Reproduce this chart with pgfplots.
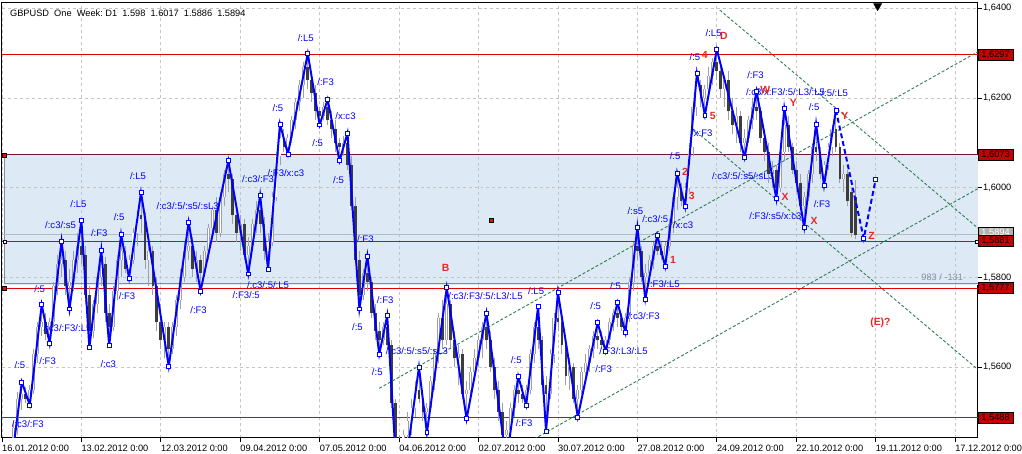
\documentclass[border=0pt]{standalone}
\usepackage{fontspec}
\setmainfont{Liberation Sans}
\usepackage{pgfplots}
\usepackage{pgfplotstable}
\pgfplotsset{compat=1.18}

\definecolor{zz}{RGB}{0,0,255}
\definecolor{lvl}{RGB}{228,0,0}
\definecolor{lvlbg}{RGB}{200,0,0}
\definecolor{lvldark}{RGB}{120,20,50}
\definecolor{band}{RGB}{221,233,245}
\definecolor{bandedge}{RGB}{128,144,164}
\definecolor{chan}{RGB}{46,125,80}
\definecolor{gridc}{RGB}{196,196,196}
\definecolor{wick}{RGB}{160,160,160}
\definecolor{bear}{RGB}{60,60,60}
\definecolor{lblred}{RGB}{232,40,40}
\definecolor{bid}{RGB}{180,188,196}

% daily candles: bar index, open, high, low, close
\pgfplotstableread{
i o h l c
0 1.5370 1.5410 1.5330 1.5390
1 1.5390 1.5420 1.5350 1.5380
2 1.5380 1.5420 1.5360 1.5400
3 1.5400 1.5480 1.5390 1.5465
4 1.5465 1.5545 1.5450 1.5530
5 1.5530 1.5567 1.5505 1.5540
6 1.5540 1.5555 1.5520 1.5530
7 1.5530 1.5560 1.5516 1.5550
8 1.5550 1.5640 1.5540 1.5630
9 1.5630 1.5700 1.5610 1.5690
10 1.5690 1.5739 1.5670 1.5700
11 1.5700 1.5720 1.5660 1.5675
12 1.5675 1.5710 1.5653 1.5700
13 1.5700 1.5790 1.5690 1.5780
14 1.5780 1.5850 1.5760 1.5830
15 1.5830 1.5881 1.5800 1.5840
16 1.5840 1.5860 1.5760 1.5780
17 1.5780 1.5820 1.5730 1.5790
18 1.5790 1.5860 1.5770 1.5840
19 1.5840 1.5900 1.5810 1.5870
20 1.5870 1.5927 1.5830 1.5850
21 1.5850 1.5870 1.5740 1.5760
22 1.5760 1.5780 1.5644 1.5680
23 1.5680 1.5750 1.5665 1.5740
24 1.5740 1.5810 1.5720 1.5800
25 1.5800 1.5861 1.5780 1.5830
26 1.5830 1.5845 1.5700 1.5720
27 1.5720 1.5740 1.5648 1.5690
28 1.5690 1.5780 1.5680 1.5770
29 1.5770 1.5850 1.5750 1.5840
30 1.5840 1.5896 1.5800 1.5860
31 1.5860 1.5870 1.5810 1.5820
32 1.5820 1.5850 1.5799 1.5840
33 1.5840 1.5910 1.5830 1.5900
34 1.5900 1.5950 1.5870 1.5940
35 1.5940 1.5989 1.5900 1.5930
36 1.5930 1.5945 1.5820 1.5840
37 1.5840 1.5880 1.5780 1.5860
38 1.5860 1.5870 1.5760 1.5780
39 1.5780 1.5800 1.5680 1.5700
40 1.5700 1.5740 1.5640 1.5660
41 1.5660 1.5700 1.5620 1.5690
42 1.5690 1.5700 1.5602 1.5640
43 1.5640 1.5700 1.5630 1.5690
44 1.5690 1.5760 1.5670 1.5750
45 1.5750 1.5820 1.5730 1.5800
46 1.5800 1.5880 1.5790 1.5860
47 1.5860 1.5923 1.5840 1.5870
48 1.5870 1.5890 1.5800 1.5820
49 1.5820 1.5860 1.5790 1.5840
50 1.5840 1.5850 1.5770 1.5810
51 1.5810 1.5870 1.5800 1.5860
52 1.5860 1.5920 1.5840 1.5910
53 1.5910 1.5960 1.5890 1.5950
54 1.5950 1.5980 1.5880 1.5900
55 1.5900 1.5990 1.5890 1.5980
56 1.5980 1.6040 1.5960 1.6030
57 1.6030 1.6060 1.5990 1.6020
58 1.6020 1.6030 1.5920 1.5940
59 1.5940 1.5960 1.5880 1.5900
60 1.5900 1.5940 1.5860 1.5920
61 1.5920 1.5930 1.5840 1.5850
62 1.5850 1.5890 1.5808 1.5870
63 1.5870 1.5930 1.5860 1.5920
64 1.5920 1.5970 1.5900 1.5950
65 1.5950 1.5983 1.5900 1.5920
66 1.5920 1.5935 1.5840 1.5860
67 1.5860 1.5900 1.5819 1.5880
68 1.5880 1.5990 1.5870 1.5980
69 1.5980 1.6080 1.5970 1.6070
70 1.6070 1.6142 1.6050 1.6110
71 1.6110 1.6130 1.6080 1.6090
72 1.6090 1.6120 1.6075 1.6110
73 1.6110 1.6160 1.6100 1.6150
74 1.6150 1.6200 1.6130 1.6190
75 1.6190 1.6240 1.6170 1.6230
76 1.6230 1.6280 1.6200 1.6270
77 1.6270 1.6299 1.6220 1.6240
78 1.6240 1.6260 1.6190 1.6210
79 1.6210 1.6230 1.6150 1.6170
80 1.6170 1.6180 1.6140 1.6160
81 1.6160 1.6190 1.6150 1.6180
82 1.6180 1.6197 1.6140 1.6150
83 1.6150 1.6170 1.6110 1.6130
84 1.6130 1.6150 1.6080 1.6100
85 1.6100 1.6110 1.6060 1.6090
86 1.6090 1.6115 1.6070 1.6100
87 1.6100 1.6122 1.6040 1.6050
88 1.6050 1.6070 1.5950 1.5960
89 1.5960 1.5980 1.5830 1.5840
90 1.5840 1.5860 1.5730 1.5760
91 1.5760 1.5820 1.5750 1.5810
92 1.5810 1.5848 1.5770 1.5790
93 1.5790 1.5800 1.5710 1.5720
94 1.5720 1.5740 1.5660 1.5680
95 1.5680 1.5700 1.5629 1.5660
96 1.5660 1.5700 1.5650 1.5690
97 1.5690 1.5715 1.5640 1.5650
98 1.5650 1.5660 1.5510 1.5520
99 1.5520 1.5530 1.5400 1.5420
100 1.5420 1.5450 1.5275 1.5390
101 1.5390 1.5460 1.5370 1.5450
102 1.5450 1.5500 1.5420 1.5480
103 1.5480 1.5530 1.5450 1.5510
104 1.5510 1.5570 1.5490 1.5550
105 1.5550 1.5600 1.5520 1.5530
106 1.5530 1.5550 1.5480 1.5500
107 1.5500 1.5520 1.5454 1.5510
108 1.5510 1.5580 1.5500 1.5570
109 1.5570 1.5640 1.5550 1.5630
110 1.5630 1.5720 1.5610 1.5710
111 1.5710 1.5750 1.5640 1.5660
112 1.5660 1.5777 1.5650 1.5740
113 1.5740 1.5750 1.5640 1.5660
114 1.5660 1.5680 1.5600 1.5620
115 1.5620 1.5650 1.5560 1.5630
116 1.5630 1.5640 1.5530 1.5540
117 1.5540 1.5570 1.5485 1.5550
118 1.5550 1.5600 1.5530 1.5590
119 1.5590 1.5640 1.5570 1.5620
120 1.5620 1.5670 1.5600 1.5660
121 1.5660 1.5700 1.5620 1.5690
122 1.5690 1.5721 1.5640 1.5660
123 1.5660 1.5680 1.5590 1.5600
124 1.5600 1.5620 1.5530 1.5550
125 1.5550 1.5570 1.5480 1.5500
126 1.5500 1.5520 1.5430 1.5450
127 1.5450 1.5480 1.5390 1.5460
128 1.5460 1.5520 1.5440 1.5510
129 1.5510 1.5560 1.5490 1.5550
130 1.5550 1.5580 1.5520 1.5540
131 1.5540 1.5560 1.5520 1.5530
132 1.5530 1.5560 1.5516 1.5550
133 1.5550 1.5640 1.5540 1.5630
134 1.5630 1.5700 1.5610 1.5690
135 1.5690 1.5735 1.5640 1.5660
136 1.5660 1.5670 1.5540 1.5560
137 1.5560 1.5580 1.5458 1.5540
138 1.5540 1.5640 1.5530 1.5630
139 1.5630 1.5720 1.5610 1.5710
140 1.5710 1.5766 1.5680 1.5700
141 1.5700 1.5720 1.5630 1.5650
142 1.5650 1.5670 1.5560 1.5580
143 1.5580 1.5620 1.5550 1.5600
144 1.5600 1.5610 1.5520 1.5530
145 1.5530 1.5560 1.5489 1.5550
146 1.5550 1.5600 1.5540 1.5590
147 1.5590 1.5630 1.5570 1.5610
148 1.5610 1.5650 1.5590 1.5640
149 1.5640 1.5680 1.5620 1.5670
150 1.5670 1.5699 1.5640 1.5660
151 1.5660 1.5680 1.5640 1.5650
152 1.5650 1.5670 1.5635 1.5660
153 1.5660 1.5710 1.5650 1.5700
154 1.5700 1.5730 1.5680 1.5720
155 1.5720 1.5744 1.5690 1.5710
156 1.5710 1.5720 1.5680 1.5690
157 1.5690 1.5720 1.5677 1.5710
158 1.5710 1.5800 1.5700 1.5790
159 1.5790 1.5880 1.5770 1.5870
160 1.5870 1.5912 1.5840 1.5860
161 1.5860 1.5870 1.5790 1.5800
162 1.5800 1.5830 1.5752 1.5810
163 1.5810 1.5850 1.5800 1.5840
164 1.5840 1.5880 1.5820 1.5870
165 1.5870 1.5894 1.5850 1.5860
166 1.5860 1.5880 1.5840 1.5850
167 1.5850 1.5880 1.5825 1.5870
168 1.5870 1.5930 1.5860 1.5920
169 1.5920 1.5990 1.5900 1.5980
170 1.5980 1.6033 1.5950 1.6000
171 1.6000 1.6010 1.5960 1.5970
172 1.5970 1.6010 1.5958 1.6000
173 1.6000 1.6100 1.5990 1.6090
174 1.6090 1.6190 1.6070 1.6180
175 1.6180 1.6255 1.6160 1.6230
176 1.6230 1.6240 1.6180 1.6200
177 1.6200 1.6230 1.6162 1.6220
178 1.6220 1.6270 1.6200 1.6250
179 1.6250 1.6290 1.6230 1.6280
180 1.6280 1.6308 1.6240 1.6260
181 1.6260 1.6280 1.6200 1.6220
182 1.6220 1.6250 1.6180 1.6240
183 1.6240 1.6260 1.6150 1.6170
184 1.6170 1.6200 1.6120 1.6140
185 1.6140 1.6180 1.6100 1.6160
186 1.6160 1.6170 1.6080 1.6100
187 1.6100 1.6130 1.6067 1.6110
188 1.6110 1.6160 1.6100 1.6150
189 1.6150 1.6200 1.6130 1.6180
190 1.6180 1.6215 1.6150 1.6170
191 1.6170 1.6180 1.6100 1.6110
192 1.6110 1.6130 1.6060 1.6080
193 1.6080 1.6100 1.6010 1.6030
194 1.6030 1.6060 1.6000 1.6040
195 1.6040 1.6050 1.5976 1.6000
196 1.6000 1.6090 1.5990 1.6080
197 1.6080 1.6177 1.6060 1.6140
198 1.6140 1.6160 1.6080 1.6090
199 1.6090 1.6100 1.6030 1.6040
200 1.6040 1.6060 1.5990 1.6010
201 1.6010 1.6030 1.5950 1.5960
202 1.5960 1.5990 1.5912 1.5980
203 1.5980 1.6040 1.5970 1.6030
204 1.6030 1.6100 1.6010 1.6090
205 1.6090 1.6142 1.6060 1.6080
206 1.6080 1.6090 1.6020 1.6030
207 1.6030 1.6060 1.6005 1.6050
208 1.6050 1.6100 1.6040 1.6090
209 1.6090 1.6140 1.6070 1.6130
210 1.6130 1.6173 1.6080 1.6090
211 1.6090 1.6100 1.6010 1.6020
212 1.6020 1.6050 1.5990 1.6030
213 1.6030 1.6040 1.5960 1.5970
214 1.5990 1.6000 1.5890 1.5900
215 1.5980 1.6017 1.5886 1.5894
}\candles

% zigzag swing points
\pgfplotstableread{
i p
2 1.5360
5 1.5567
7 1.5516
10 1.5739
12 1.5653
15 1.5881
17 1.5730
20 1.5927
22 1.5644
25 1.5861
27 1.5648
30 1.5896
32 1.5799
35 1.5989
42 1.5602
47 1.5923
50 1.5770
57 1.6060
62 1.5808
65 1.5983
67 1.5819
70 1.6142
72 1.6075
77 1.6299
80 1.6140
82 1.6197
85 1.6060
87 1.6122
90 1.5730
92 1.5848
95 1.5629
97 1.5715
100 1.5275
105 1.5600
107 1.5454
112 1.5777
117 1.5485
122 1.5721
127 1.5390
130 1.5580
132 1.5516
135 1.5735
137 1.5458
140 1.5766
145 1.5489
150 1.5699
152 1.5635
155 1.5744
157 1.5677
160 1.5912
162 1.5752
165 1.5894
167 1.5825
170 1.6033
172 1.5958
175 1.6255
177 1.6162
180 1.6308
187 1.6067
190 1.6215
195 1.5976
197 1.6177
202 1.5912
205 1.6142
207 1.6005
210 1.6173
}\zigzag

% visible swing points (markers)
\pgfplotstableread{
i p
5 1.5567
7 1.5516
10 1.5739
12 1.5653
15 1.5881
17 1.5730
20 1.5927
22 1.5644
25 1.5861
27 1.5648
30 1.5896
32 1.5799
35 1.5989
42 1.5602
47 1.5923
50 1.5770
57 1.6060
62 1.5808
65 1.5983
67 1.5819
70 1.6142
72 1.6075
77 1.6299
80 1.6140
82 1.6197
85 1.6060
87 1.6122
90 1.5730
92 1.5848
95 1.5629
97 1.5715
105 1.5600
107 1.5454
112 1.5777
117 1.5485
122 1.5721
130 1.5580
132 1.5516
135 1.5735
137 1.5458
140 1.5766
145 1.5489
150 1.5699
152 1.5635
155 1.5744
157 1.5677
160 1.5912
162 1.5752
165 1.5894
167 1.5825
170 1.6033
172 1.5958
175 1.6255
177 1.6162
180 1.6308
187 1.6067
190 1.6215
195 1.5976
197 1.6177
202 1.5912
205 1.6142
207 1.6005
210 1.6173
217 1.5887
220 1.6018
}\zzmarks

\pgfplotstableread{
i p
210 1.6173
217 1.5887
220 1.6018
}\zzproj

\begin{document}
\begin{tikzpicture}[font=\fontsize{9.3}{10}\selectfont,
  zl/.style={text=zz, inner sep=0pt, font=\fontsize{9.6}{10}\selectfont},
  rl/.style={text=lblred, inner sep=0pt, font=\bfseries\fontsize{10.5}{11}\selectfont},
  lvlbox/.style={anchor=west, fill=lvlbg, draw=black, line width=0.6pt, minimum width=35pt,
    minimum height=11pt, inner sep=0pt, text=black}]
\begin{axis}[
  scale only axis, width=983pt, height=438pt,
  at={(0pt,0pt)}, anchor=south west,
  xmin=0, xmax=245.75, ymin=1.54427, ymax=1.64117,
  xtick={0,20,...,240},
  xticklabels={16.01.2012 0:00,13.02.2012 0:00,12.03.2012 0:00,09.04.2012 0:00,
    07.05.2012 0:00,04.06.2012 0:00,02.07.2012 0:00,30.07.2012 0:00,27.08.2012 0:00,
    24.09.2012 0:00,22.10.2012 0:00,19.11.2012 0:00,17.12.2012 0:00},
  ytick={1.56,1.58,1.60,1.62,1.64},
  yticklabels={{1,5600},{1,5800},{1,6000},{1,6200},{1,6400}},
  xtick pos=left, ytick pos=right, yticklabel pos=right,
  tick align=outside, major tick length=4pt,
  tick style={black, line width=0.8pt},
  grid=major, major grid style={gridc, dash pattern=on 3pt off 3pt, line width=0.7pt},
  axis line style={black, line width=1pt},
  xticklabel style={anchor=north west, inner sep=0pt, yshift=-3.5pt},
  yticklabel style={anchor=west, inner sep=0pt, xshift=1pt},
]
% box band, with the grid redrawn over it
\addplot[fill=band, draw=none]
  coordinates {(0.5,1.5784) (245.75,1.5784) (245.75,1.6073) (0.5,1.6073)} -- cycle;
\addplot[gridc, dash pattern=on 3pt off 3pt, line width=0.7pt] coordinates {(0.5,1.58) (245.75,1.58)};
\addplot[gridc, dash pattern=on 3pt off 3pt, line width=0.7pt] coordinates {(0.5,1.60) (245.75,1.60)};
\pgfplotsinvokeforeach{20,40,...,240}{
  \addplot[gridc, dash pattern=on 3pt off 3pt, line width=0.7pt] coordinates {(#1,1.5784) (#1,1.6073)};
}
\addplot[bandedge, line width=0.8pt] coordinates {(0.5,1.5786) (245.75,1.5786)};
\addplot[bandedge, line width=0.8pt] coordinates {(0.5,1.5786) (0.5,1.6073)};
\addplot[bid, line width=0.8pt] coordinates {(0,1.5895) (245.75,1.5895)};

% levels
\addplot[lvl, line width=1pt] coordinates {(0,1.6297) (245.75,1.6297)};
\addplot[lvldark, line width=1pt] coordinates {(0,1.6073) (245.75,1.6073)};
\addplot[lvl, line width=1pt] coordinates {(0,1.5880) (245.75,1.5880)};
\addplot[lvl, line width=1pt] coordinates {(0,1.5776) (245.75,1.5776)};
\addplot[lvl, line width=1pt] coordinates {(0,1.5487) (245.75,1.5487)};

% candles
\addplot[draw=none, error bars/.cd, y dir=plus, y explicit, error mark=none,
  error bar style={wick, line width=0.9pt, solid}]
  table[x=i, y=l, y error plus expr=\thisrow{h}-\thisrow{l}] {\candles};
\addplot[draw=none, x filter/.expression={\thisrow{c}>\thisrow{o} ? x : nan},
  error bars/.cd, y dir=plus, y explicit, error mark=none,
  error bar style={wick, line width=3pt, solid}]
  table[x=i, y=o, y error plus expr=\thisrow{c}-\thisrow{o}] {\candles};
\addplot[draw=none, x filter/.expression={\thisrow{c}>\thisrow{o} ? x : nan},
  error bars/.cd, y dir=plus, y explicit, error mark=none,
  error bar style={white, line width=1.2pt, solid}]
  table[x=i, y=o, y error plus expr=\thisrow{c}-\thisrow{o}] {\candles};
\addplot[draw=none, x filter/.expression={\thisrow{c}<\thisrow{o} ? x : nan},
  error bars/.cd, y dir=plus, y explicit, error mark=none,
  error bar style={bear, line width=2.8pt, solid}]
  table[x=i, y=c, y error plus expr=\thisrow{o}-\thisrow{c}] {\candles};

% channels
\addplot[chan, line width=0.9pt, dash pattern=on 3pt off 2pt] coordinates {(95,1.5553) (245.75,1.6303)};
\addplot[chan, line width=0.9pt, dash pattern=on 3pt off 2pt] coordinates {(134,1.5440) (245.75,1.5998)};
\addplot[chan, line width=0.9pt, dash pattern=on 3pt off 2pt] coordinates {(180.75,1.6396) (245.75,1.5910)};
\addplot[chan, line width=0.9pt, dash pattern=on 3pt off 2pt] coordinates {(174,1.6131) (245.75,1.5595)};

% zigzag
\addplot[zz, line width=2pt] table[x=i, y=p] {\zigzag};
\addplot[zz, line width=2pt, dash pattern=on 5pt off 3pt] table[x=i, y=p] {\zzproj};
\addplot[only marks, mark=square*, mark size=2pt, mark options={fill=white, draw=zz, line width=0.8pt, solid}]
  table[x=i, y=p] {\zzmarks};

% small markers
\addplot[only marks, mark=square*, mark size=1.8pt, mark options={fill=red, draw=black, line width=0.4pt}]
  coordinates {(0.6,1.6073) (0.6,1.5776) (123.25,1.5927)};
\addplot[only marks, mark=square*, mark size=1.6pt, mark options={fill=white, draw=black, line width=0.5pt}]
  coordinates {(0.6,1.5880) (245.5,1.5880)};
\addplot[only marks, mark=triangle*, mark size=4.7pt, mark options={rotate=180, fill=black, draw=black}]
  coordinates {(220.5,1.6405)};

% title
\node[anchor=west, inner sep=0pt] at (rel axis cs:0,1) [xshift=8pt, yshift=-10pt]
  {GBPUSD\ \ One\ \ Week:\ D1\ \ 1.598\ \ 1.6017\ \ 1.5886\ \ 1.5894};

% wave labels
\node[zl] at (axis cs:6.5,1.5474) {/:c3/:F3};
\node[zl] at (axis cs:4.5,1.5604) {/:5};
\node[zl] at (axis cs:11.5,1.5613) {/:F3};
\node[zl] at (axis cs:9.5,1.5775) {/:5};
\node[zl] at (axis cs:16.5,1.5688) {/:c3/:F3/:L5};
\node[zl] at (axis cs:14.75,1.5916) {/:c3/:s5};
\node[zl] at (axis cs:19.25,1.5963) {/:L5};
\node[zl] at (axis cs:24.5,1.5898) {/:F3};
\node[zl] at (axis cs:26.75,1.5606) {/:c3};
\node[zl] at (axis cs:29.5,1.5934) {/:5};
\node[zl] at (axis cs:31.5,1.5759) {/:F3};
\node[zl] at (axis cs:34.25,1.6025) {/:L5};
\node[zl] at (axis cs:46.75,1.5958) {/:c3/:5/:s5/:sL3};
\node[zl] at (axis cs:49.5,1.5728) {/:F3};
\node[zl] at (axis cs:64.5,1.6020) {/:c3/:F3};
\node[zl] at (axis cs:61.5,1.5760) {/:F3/:5};
\node[zl] at (axis cs:67,1.5782) {/:c3/:5/:L5};
\node[zl] at (axis cs:71.5,1.6033) {/:F3/x:c3};
\node[zl] at (axis cs:69.5,1.6177) {/:5};
\node[zl] at (axis cs:76.5,1.6334) {/:L5};
\node[zl] at (axis cs:81.5,1.6235) {/:F3};
\node[zl] at (axis cs:79.5,1.6100) {/:5};
\node[zl] at (axis cs:86.5,1.6160) {/x:c3};
\node[zl] at (axis cs:84.75,1.6018) {/:5};
\node[zl] at (axis cs:91.5,1.5885) {/:F3};
\node[zl] at (axis cs:96.5,1.5750) {/:F3};
\node[zl] at (axis cs:89.5,1.5690) {/:5};
\node[zl] at (axis cs:104.5,1.5635) {/:c3/:5/:s5/:sL3};
\node[zl] at (axis cs:94.5,1.5589) {/:5};
\node[zl] at (axis cs:121.75,1.5759) {/:c3/:F3/:5/:L3/:L5};
\node[zl] at (axis cs:134.5,1.5770) {/:L5};
\node[zl] at (axis cs:129.5,1.5617) {/:5};
\node[zl] at (axis cs:131.5,1.5476) {/:F3};
\node[zl] at (axis cs:149.5,1.5737) {/:5};
\node[zl] at (axis cs:156.5,1.5637) {/:F3/:L3/:L5};
\node[zl] at (axis cs:151.5,1.5595) {/:F3};
\node[zl] at (axis cs:154.5,1.5781) {/:5};
\node[zl] at (axis cs:161.6,1.5713) {/:c3/:F3};
\node[zl] at (axis cs:159.5,1.5949) {/:s5};
\node[zl] at (axis cs:164.5,1.5929) {/:c3/:5};
\node[zl] at (axis cs:166.6,1.5786) {/:F3/:L5};
\node[zl] at (axis cs:171.5,1.5916) {/x:c3};
\node[zl] at (axis cs:169.5,1.6071) {/:5};
\node[zl] at (axis cs:176.25,1.6122) {/x:F3};
\node[zl] at (axis cs:174.5,1.6292) {/:5};
\node[zl] at (axis cs:179.2,1.6345) {/:L5};
\node[zl] at (axis cs:186.6,1.6027) {/:c3/:5/:s5/:sL3};
\node[zl] at (axis cs:189.75,1.6252) {/:F3};
\node[zl] at (axis cs:197.3,1.6213) {/:c3/x:F3/:5/:L3/:L5};
\node[zl] at (axis cs:209.7,1.6210) {/:5/:L5};
\node[zl] at (axis cs:204.5,1.6179) {/:5};
\node[zl] at (axis cs:194.75,1.5936) {/:F3/:s5/x:c3};
\node[zl] at (axis cs:206.5,1.5963) {/:F3};
\node[text=bandedge, inner sep=0pt] at (axis cs:236.75,1.5801) {983 / -131};

% count labels
\node[rl] at (axis cs:111.7,1.5821) {B};
\node[rl] at (axis cs:169,1.5839) {1};
\node[rl] at (axis cs:172,1.6036) {2};
\node[rl] at (axis cs:173.7,1.5981) {3};
\node[rl] at (axis cs:177,1.6297) {4};
\node[rl] at (axis cs:179,1.6160) {5};
\node[rl] at (axis cs:181.8,1.6339) {D};
\node[rl] at (axis cs:192.2,1.6218) {W};
\node[rl] at (axis cs:199.25,1.6188) {Y};
\node[rl] at (axis cs:197.2,1.5980) {X};
\node[rl] at (axis cs:204.5,1.5927) {X};
\node[rl] at (axis cs:212.25,1.6159) {Y};
\node[rl] at (axis cs:219,1.5892) {Z};
\node[rl] at (axis cs:221.2,1.5699) {(E)?};

% anchors for the price boxes at right
\coordinate (b0) at (axis cs:245.75,1.5896);
\coordinate (b1) at (axis cs:245.75,1.6297);
\coordinate (b2) at (axis cs:245.75,1.6073);
\coordinate (b3) at (axis cs:245.75,1.5881);
\coordinate (b4) at (axis cs:245.75,1.5777);
\coordinate (b5) at (axis cs:245.75,1.5488);
\end{axis}
\node[lvlbox, fill=gray!60, text=white] at ([yshift=2pt]b0) {1,5894};
\node[lvlbox] at (b1) {1,6297};
\node[lvlbox] at (b2) {1,6073};
\node[lvlbox] at (b3) {1,5881};
\node[lvlbox] at (b4) {1,5777};
\node[lvlbox] at (b5) {1,5488};
\useasboundingbox (-2pt,-16pt) rectangle (1020pt,441pt);
\end{tikzpicture}
\end{document}
